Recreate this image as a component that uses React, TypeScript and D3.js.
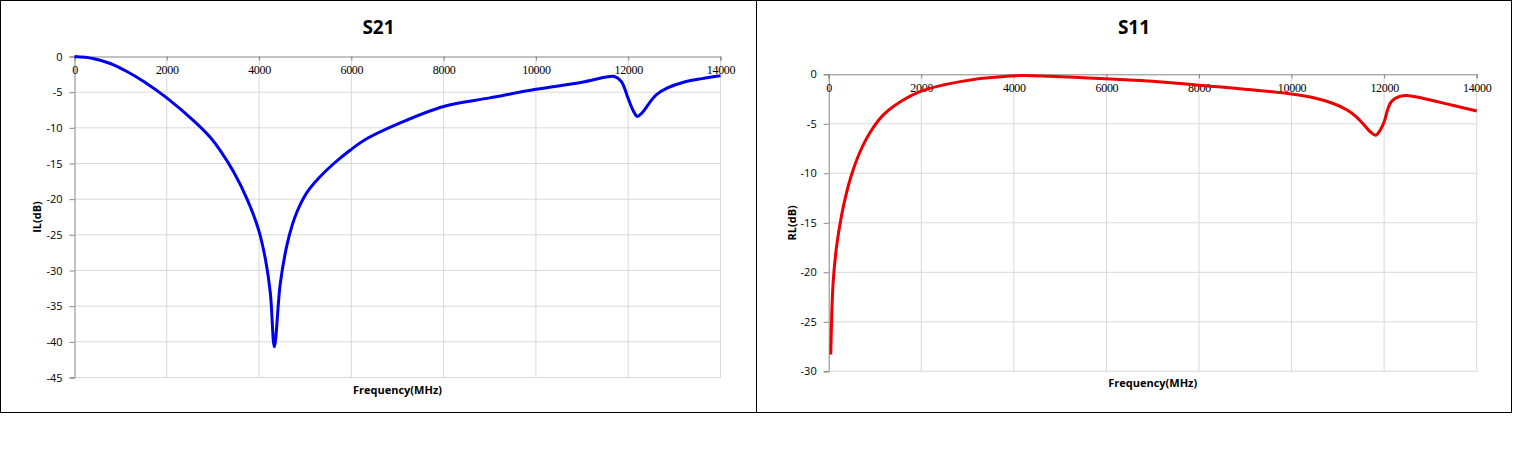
import { useEffect, useRef } from 'react'
import * as d3 from 'd3'

// S21 insertion loss, frequency in MHz / dB
const s21Freq = [0, 400, 775, 1135, 1500, 2000, 2580, 2950, 3160, 3450, 3740, 3990, 4140, 4245, 4331, 4460, 4605, 4720, 4820, 4950, 5100, 5300, 5620, 5980, 6340, 7060, 8000, 9000, 10000, 11000, 11500, 11700, 11850, 12000, 12100, 12200, 12300, 12450, 12600, 12850, 13200, 13600, 14000]
const s21Vals = [0, -0.27, -0.98, -2.1, -3.5, -5.8, -9.0, -11.4, -13.2, -16.2, -20.0, -24.3, -28.5, -33.2, -40.7, -31.8, -26.4, -23.6, -21.8, -20.0, -18.5, -17.0, -15.0, -13.1, -11.5, -9.3, -7.0, -5.8, -4.6, -3.6, -2.9, -2.8, -3.5, -5.9, -7.5, -8.4, -7.9, -6.6, -5.4, -4.4, -3.6, -3.1, -2.7]

// S11 return loss
const s11Freq = [45, 95, 170, 280, 383, 490, 670, 890, 1180, 1610, 2000, 2840, 3920, 4800, 5500, 6200, 7000, 8000, 9000, 10000, 10500, 10900, 11200, 11400, 11600, 11700, 11820, 11920, 12000, 12080, 12150, 12250, 12450, 12700, 13000, 13500, 14000]
const s11Vals = [-28.3, -21.1, -17.4, -14.2, -12.0, -10.2, -7.9, -5.9, -4.1, -2.6, -1.7, -0.74, -0.16, -0.2, -0.34, -0.5, -0.7, -1.1, -1.5, -2.0, -2.4, -2.95, -3.6, -4.3, -5.3, -5.8, -6.15, -5.6, -4.8, -3.5, -2.8, -2.4, -2.15, -2.3, -2.6, -3.15, -3.7]

const xTicks = [0, 2000, 4000, 6000, 8000, 10000, 12000, 14000]
const s21YTicks = [0, -5, -10, -15, -20, -25, -30, -35, -40, -45]
const s11YTicks = [0, -5, -10, -15, -20, -25, -30]

interface Panel {
  title: string
  yLabel: string
  freq: number[]
  vals: number[]
  yTicks: number[]
  color: string
  box: [number, number, number, number]   // x0, y0, x1, y1 of frame
  plot: [number, number, number, number]  // left, top, right, bottom
}

const panels: Panel[] = [
  { title: 'S21', yLabel: 'IL(dB)', freq: s21Freq, vals: s21Vals, yTicks: s21YTicks, color: '#0000ee',
    box: [0.5, 0.5, 756.5, 412.5], plot: [74.5, 56.5, 720.5, 377.5] },
  { title: 'S11', yLabel: 'RL(dB)', freq: s11Freq, vals: s11Vals, yTicks: s11YTicks, color: '#ee0000',
    box: [756.5, 0.5, 1511.5, 412.5], plot: [828.7, 74.3, 1476.7, 371.3] },
]

const SANS = '"Open Sans", "Noto Sans", sans-serif'

export default function App() {
  const ref = useRef<SVGSVGElement>(null)

  useEffect(() => {
    const svg = d3.select(ref.current)
    svg.selectAll('*').remove()

    panels.forEach(p => {
      const [bx0, by0, bx1, by1] = p.box
      const [l, t, r, b] = p.plot
      const x = d3.scaleLinear().domain([0, 14000]).range([l, r])
      const y = d3.scaleLinear().domain([d3.min(p.yTicks)!, 0]).range([b, t])
      const g = svg.append('g')

      g.append('rect').attr('x', bx0).attr('y', by0).attr('width', bx1 - bx0).attr('height', by1 - by0)
        .attr('fill', '#fff').attr('stroke', '#000').attr('stroke-width', 1)

      // grid
      g.selectAll('.hg').data(p.yTicks.filter(v => v !== 0)).join('line')
        .attr('x1', l).attr('x2', r).attr('y1', d => y(d)).attr('y2', d => y(d))
        .attr('stroke', '#d9d9d9').attr('stroke-width', 1)
      g.selectAll('.vg').data(xTicks.filter(v => v !== 0)).join('line')
        .attr('x1', d => x(d)).attr('x2', d => x(d)).attr('y1', t).attr('y2', b)
        .attr('stroke', '#d9d9d9').attr('stroke-width', 1)

      // y axis
      g.append('g').attr('transform', `translate(${l},0)`)
        .call(d3.axisLeft(y).tickValues(p.yTicks).tickSize(5).tickPadding(7).tickFormat(d => `${d}`))
        .call(ag => {
          ag.select('.domain').attr('stroke', '#868686')
          ag.selectAll('.tick line').attr('stroke', '#868686')
          ag.selectAll('text').attr('fill', '#000').attr('font-size', 11).attr('font-family', SANS)
        })

      // x axis along the top (value 0)
      g.append('g').attr('transform', `translate(0,${t})`)
        .call(d3.axisBottom(x).tickValues(xTicks).tickSize(4).tickPadding(5).tickFormat(d => `${d}`))
        .call(ag => {
          ag.select('.domain').attr('stroke', '#868686')
          ag.selectAll('.tick line').attr('stroke', '#868686')
          ag.selectAll('text').attr('fill', '#000').attr('font-size', 12)
            .attr('font-family', '"Liberation Serif", "DejaVu Serif", serif').attr('letter-spacing', -0.3)
        })

      const line = d3.line<number>()
        .x((_, i) => x(p.freq[i])).y(d => y(d)).curve(d3.curveCatmullRom.alpha(0.5))
      g.append('path').datum(p.vals)
        .attr('fill', 'none').attr('stroke', p.color).attr('stroke-width', 3)
        .attr('stroke-linejoin', 'round').attr('d', line)

      g.append('text').attr('x', (bx0 + bx1) / 2).attr('y', 34).attr('text-anchor', 'middle')
        .attr('font-family', SANS).attr('font-weight', 'bold').attr('font-size', 19).text(p.title)

      g.append('text').attr('x', (l + r) / 2).attr('y', b + 16).attr('text-anchor', 'middle')
        .attr('font-family', SANS).attr('font-weight', 'bold').attr('font-size', 11).text('Frequency(MHz)')

      g.append('text').attr('transform', `translate(${l - 37},${(t + b) / 2}) rotate(-90)`)
        .attr('text-anchor', 'middle').attr('dy', '0.35em')
        .attr('font-family', SANS).attr('font-weight', 'bold').attr('font-size', 11).text(p.yLabel)
    })
  }, [])

  return (
    <svg ref={ref} width={1513} height={460}
      style={{ position: 'absolute', left: 0, top: 0, display: 'block', background: '#fff' }} />
  )
}
